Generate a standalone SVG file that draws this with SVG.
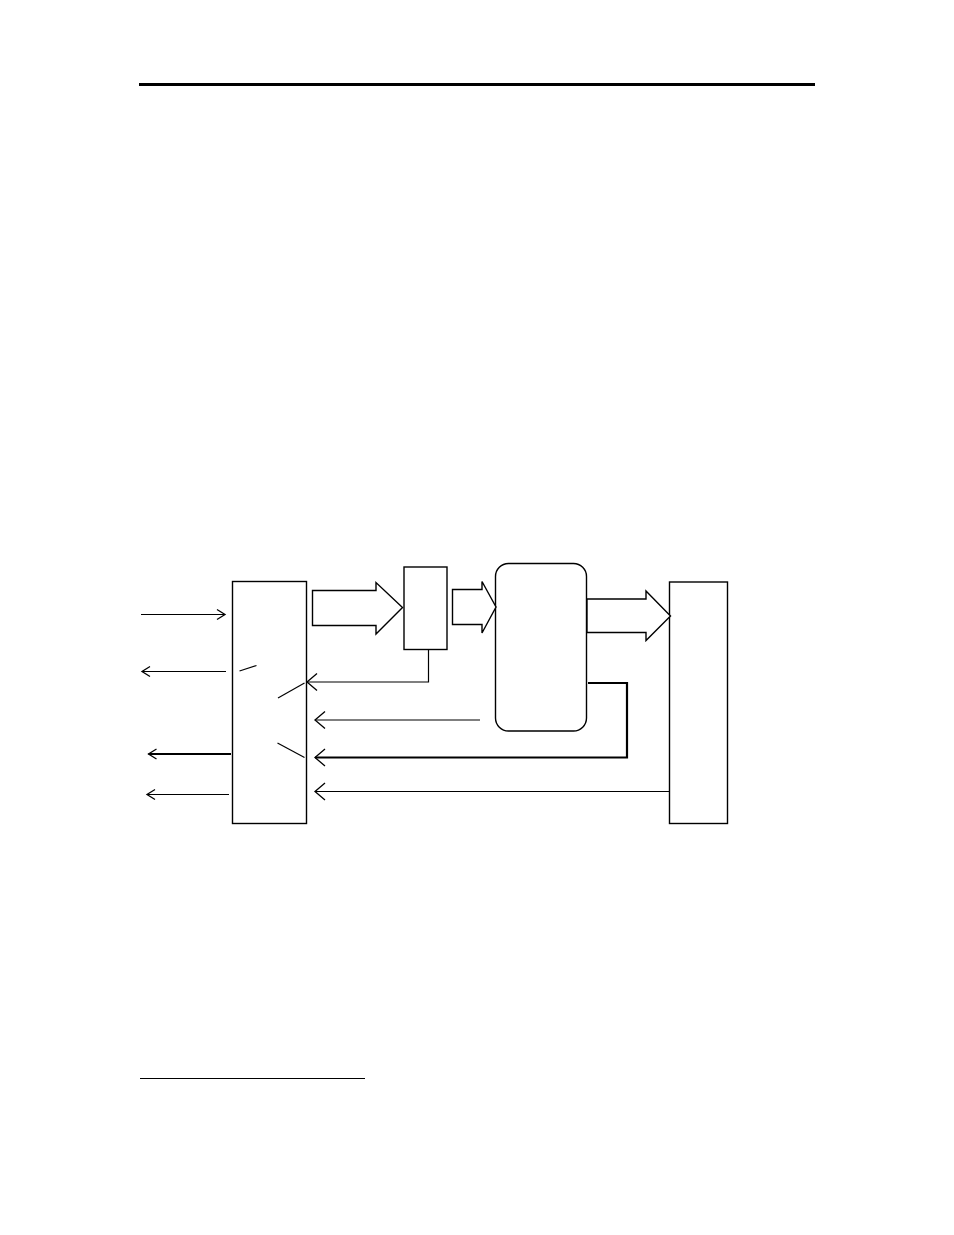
<svg xmlns="http://www.w3.org/2000/svg" width="954" height="1235" viewBox="0 0 954 1235">
<style>
.box{fill:#fff;stroke:#000;stroke-width:1.4}
.ln{fill:none;stroke:#000;stroke-width:1.2}
.thk{fill:none;stroke:#000;stroke-width:2.2}
.blk{fill:#fff;stroke:#000;stroke-width:1.4;stroke-linejoin:miter}
</style>
<defs>
<marker id="sm" markerUnits="userSpaceOnUse" orient="auto" refX="0" refY="0" markerWidth="20" markerHeight="20" overflow="visible">
<path d="M-8,-5 L0,0 L-8,5" fill="none" stroke="#000" stroke-width="1.3"/>
</marker>
<marker id="lg" markerUnits="userSpaceOnUse" orient="auto" refX="0" refY="0" markerWidth="20" markerHeight="20" overflow="visible">
<path d="M-10,-8.5 L0,0 L-10,8.5" fill="none" stroke="#000" stroke-width="1.3"/>
</marker>
</defs>
<rect width="954" height="1235" fill="#fff"/>
<line x1="139" y1="84.5" x2="815" y2="84.5" stroke="#000" stroke-width="3"/>
<line x1="140" y1="1078.5" x2="365" y2="1078.5" stroke="#000" stroke-width="1.2"/>

<g id="left-box"><rect class="box" x="232.5" y="581.5" width="74" height="242"/></g>
<g id="small-box"><rect class="box" x="404" y="567" width="43" height="82.5"/></g>
<g id="processor"><rect class="box" x="495.5" y="563.5" width="91" height="167.5" rx="13" ry="13" stroke="#222"/></g>
<g id="right-box"><rect class="box" x="669.5" y="582" width="58" height="241.5"/></g>

<g id="connectors">
<polygon id="blk1" class="blk" points="312.5,590.5 376,590.5 376,582.5 402.5,607.5 376,634 376,625.5 312.5,625.5"/>
<polygon id="blk2" class="blk" stroke-width="2" points="452.5,589.5 482,589.5 482,581.5 496,607 482,633 482,624.5 452.5,624.5"/>
<polygon id="blk3" class="blk" stroke-width="1.6" points="587,599 646,599 646,591 670.5,616 646,640.5 646,632.5 587,632.5"/>

<line class="ln" x1="141" y1="614.5" x2="225" y2="614.5" marker-end="url(#sm)"/>
<line class="ln" x1="226" y1="671.5" x2="142" y2="671.5" marker-end="url(#sm)"/>
<line class="thk" x1="231" y1="754" x2="148.5" y2="754" marker-end="url(#sm)"/>
<line class="ln" x1="229" y1="794.5" x2="147" y2="794.5" marker-end="url(#sm)"/>

<line class="ln" x1="239.5" y1="671" x2="256.5" y2="665.5"/>
<line class="ln" x1="278" y1="698" x2="304.5" y2="683"/>
<line class="ln" x1="277.5" y1="743" x2="304.5" y2="757.5"/>

<polyline class="ln" points="428.5,649.5 428.5,682 307,682" marker-end="url(#lg)"/>
<line class="ln" x1="480" y1="720" x2="315" y2="720" marker-end="url(#lg)"/>
<polyline class="thk" points="588,683 627,683 627,757.5 315,757.5" marker-end="url(#lg)"/>
<line class="ln" x1="669.5" y1="791.5" x2="315" y2="791.5" marker-end="url(#lg)"/>
</g>
</svg>
